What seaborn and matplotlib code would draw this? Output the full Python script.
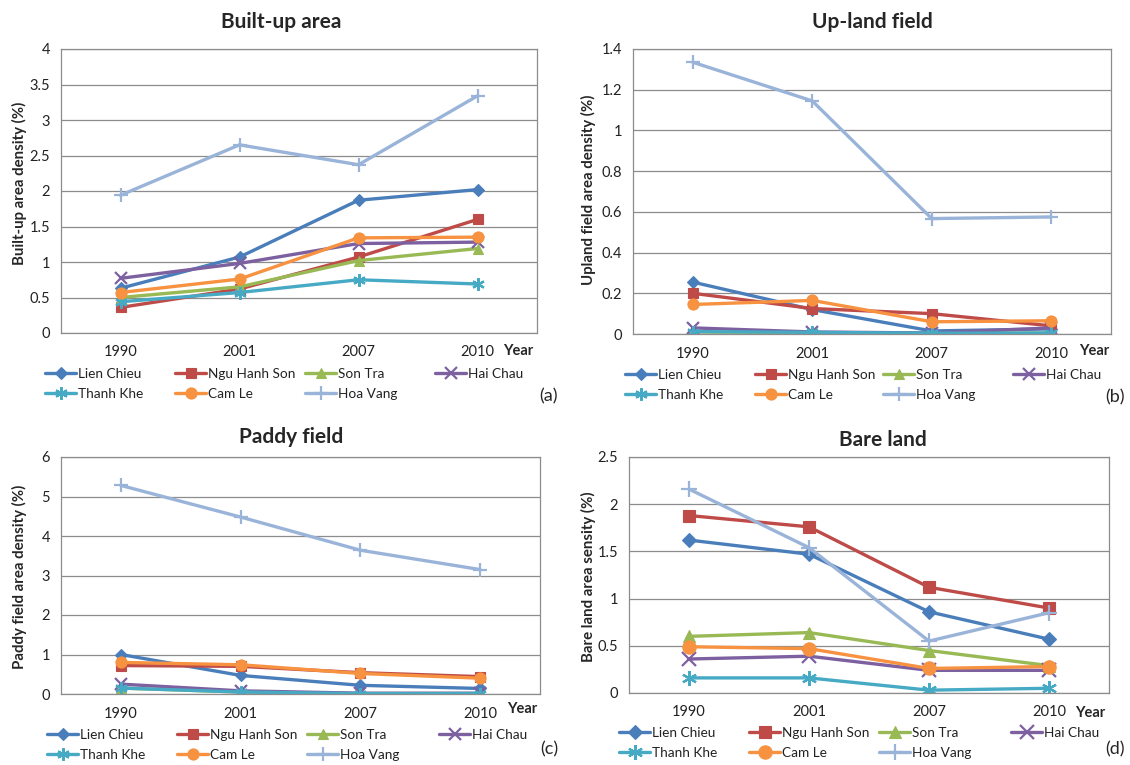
import numpy as np
import pandas as pd
import matplotlib
matplotlib.use("Agg")
import matplotlib.pyplot as plt
import seaborn as sns
from matplotlib.ticker import MultipleLocator, FuncFormatter

# ---------------- data ----------------
years = ["1990", "2001", "2007", "2010"]
districts = ["Lien Chieu", "Ngu Hanh Son", "Son Tra", "Hai Chau",
             "Thanh Khe", "Cam Le", "Hoa Vang"]

builtup_values = [
    [0.63, 1.07, 1.87, 2.02],   # Lien Chieu
    [0.36, 0.62, 1.07, 1.60],   # Ngu Hanh Son
    [0.50, 0.65, 1.02, 1.19],   # Son Tra
    [0.77, 0.98, 1.26, 1.28],   # Hai Chau
    [0.44, 0.57, 0.75, 0.69],   # Thanh Khe
    [0.57, 0.76, 1.34, 1.35],   # Cam Le
    [1.94, 2.65, 2.37, 3.34],   # Hoa Vang
]
upland_values = [
    [0.255, 0.120, 0.015, 0.025],
    [0.200, 0.125, 0.100, 0.040],
    [0.010, 0.006, 0.003, 0.005],
    [0.030, 0.010, 0.005, 0.030],
    [0.012, 0.008, 0.004, 0.005],
    [0.145, 0.165, 0.060, 0.065],
    [1.335, 1.145, 0.567, 0.575],
]
paddy_values = [
    [1.00, 0.47, 0.22, 0.14],
    [0.72, 0.70, 0.54, 0.44],
    [0.15, 0.05, 0.01, 0.01],
    [0.25, 0.08, 0.02, 0.02],
    [0.15, 0.05, 0.01, 0.01],
    [0.80, 0.74, 0.52, 0.40],
    [5.28, 4.48, 3.64, 3.15],
]
bare_values = [
    [1.62, 1.47, 0.86, 0.57],
    [1.88, 1.76, 1.12, 0.90],
    [0.60, 0.64, 0.45, 0.29],
    [0.36, 0.39, 0.24, 0.24],
    [0.16, 0.16, 0.03, 0.05],
    [0.49, 0.47, 0.26, 0.28],
    [2.16, 1.54, 0.55, 0.85],
]

titles = ["Built-up area", "Up-land field", "Paddy field", "Bare land"]
ylabels = ["Built-up area density (%)", "Upland field area density (%)",
           "Paddy field area density (%)", "Bare land area sensity (%)"]
panel_tags = ["(a)", "(b)", "(c)", "(d)"]
ymax = [4, 1.4, 6, 2.5]
ystep = [0.5, 0.2, 1, 0.5]

# ---------------- style ----------------
colors = ["#4A7EBB", "#BE4B48", "#98B954", "#7D60A0", "#46AAC5", "#F69240", "#9AB4D9"]
markers = ["D", "s", "^", "x", (6, 2, 0), "o", "+"]
msizes = [6, 7, 7, 8, 9, 8, 10]

W, H = 1130, 765
sns.set_style("white")
plt.rcParams["font.family"] = ["Lato", "DejaVu Sans"]

fig = plt.figure(figsize=(W / 100, H / 100), dpi=100)

# axes boxes in pixels: left, top, right, bottom
boxes = [(61, 49, 537, 333), (633, 49, 1111, 334),
         (61, 457, 540, 694), (629, 457, 1109, 693)]
title_pos = [(281, 22), (872, 22), (291, 437), (883, 440)]
ylab_pos = [(19, 183), (588, 190), (19, 577), (588, 577)]
year_pos = [(518, 351), (1094, 351), (522, 709), (1090, 713)]
tag_pos = [(548, 396), (1115, 397), (549, 749), (1115, 749)]
legend_cols = [(45, 175, 305, 435), (625, 755, 883, 1013),
               (47, 177, 307, 439), (619, 749, 879, 1011)]
legend_top = [368, 369, 729, 727]
mscale = [1.0, 1.0, 1.0, 1.2]

all_values = [builtup_values, upland_values, paddy_values, bare_values]

for p in range(4):
    l, t, r, b = boxes[p]
    ax = fig.add_axes([l / W, 1 - b / H, (r - l) / W, (b - t) / H])
    rows = []
    for d, vals in zip(districts, all_values[p]):
        for y, v in zip(years, vals):
            rows.append({"Year": y, "District": d, "Value": v})
    df = pd.DataFrame(rows)

    handles = []
    for i, d in enumerate(districts):
        sub = df[df["District"] == d]
        sns.lineplot(data=sub, x="Year", y="Value", ax=ax, color=colors[i],
                     marker=markers[i], markersize=msizes[i] * mscale[p],
                     markeredgewidth=1.6 if i in (3, 4, 6) else 0.8,
                     markeredgecolor=colors[i], linewidth=2.4,
                     legend=False, sort=False, errorbar=None)
        handles.append(ax.lines[-1])

    ax.set_xlim(-0.5, 3.5)
    ax.set_ylim(0, ymax[p])
    ax.yaxis.set_major_locator(MultipleLocator(ystep[p]))
    ax.yaxis.set_major_formatter(FuncFormatter(lambda v, pos: f"{v:g}"))
    ax.grid(axis="y", color="#8C8C8C", linewidth=0.9)
    ax.grid(axis="x", visible=False)
    ax.set_axisbelow(True)
    for s in ax.spines.values():
        s.set_color("#8C8C8C")
        s.set_linewidth(0.9)
    ax.tick_params(axis="both", length=0, labelsize=10.5, colors="#222222")
    ax.tick_params(axis="y", pad=8)
    ax.tick_params(axis="x", pad=9)
    ax.set_xlabel("")
    ax.set_ylabel("")

    fig.text(title_pos[p][0] / W, 1 - title_pos[p][1] / H, titles[p],
             ha="center", va="center", fontsize=15, fontweight="bold")
    fig.text(ylab_pos[p][0] / W, 1 - ylab_pos[p][1] / H, ylabels[p],
             ha="center", va="center", rotation=90, fontsize=10.8,
             fontweight="bold")
    fig.text(year_pos[p][0] / W, 1 - year_pos[p][1] / H, "Year",
             ha="center", va="center", fontsize=10.5, fontweight="bold")
    fig.text(tag_pos[p][0] / W, 1 - tag_pos[p][1] / H, panel_tags[p],
             ha="center", va="center", fontsize=13)

    groups = [[0, 4], [1, 5], [2, 6], [3]]
    for g, x0 in zip(groups, legend_cols[p]):
        leg = fig.legend([handles[k] for k in g], [districts[k] for k in g],
                         loc="upper left",
                         bbox_to_anchor=(x0 / W, 1 - legend_top[p] / H),
                         frameon=False, borderpad=0, borderaxespad=0,
                         handlelength=2.3, handletextpad=0.1,
                         labelspacing=0.6, fontsize=9.8, numpoints=1)
        for txt in leg.get_texts():
            txt.set_color("#222222")

fig.savefig("out.png", dpi=100, facecolor="white")
